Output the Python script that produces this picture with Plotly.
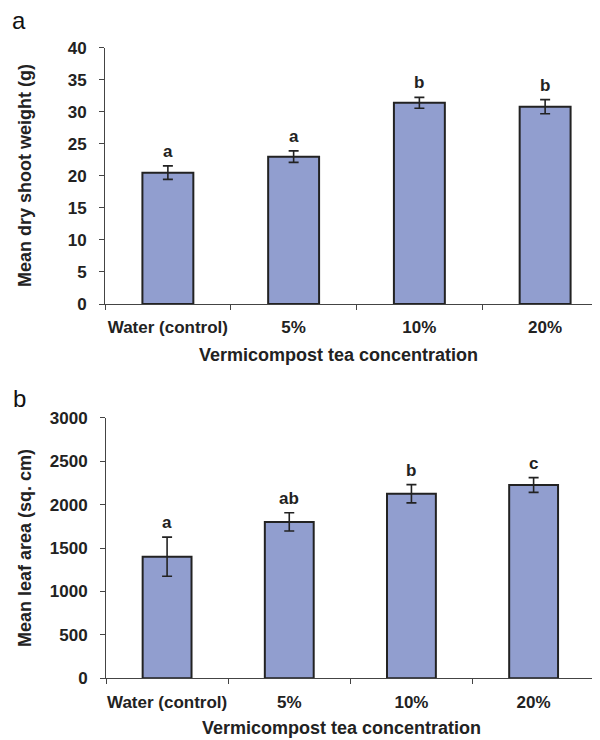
import plotly.graph_objects as go

categories = ["Water (control)", "5%", "10%", "20%"]
shoot_weight = [20.5, 23.0, 31.4, 30.8]
shoot_err = [1.05, 0.9, 0.85, 1.1]
shoot_letters = ["a", "a", "b", "b"]
leaf_area = [1400, 1800, 2125, 2225]
leaf_err = [225, 105, 105, 85]
leaf_letters = ["a", "ab", "b", "c"]
shoot_ticks = [0, 5, 10, 15, 20, 25, 30, 35, 40]
leaf_ticks = [0, 500, 1000, 1500, 2000, 2500, 3000]

OFF = 8  # page body margin
W, H = 600 - OFF, 740 - OFF
BAR = "rgb(145,158,207)"
DARK = "#222222"
FONT = "Liberation Sans, Arial, sans-serif"

def px(v):
    return (v - OFF) / W

def py(v):
    return 1 - (v - OFF) / H

fig = go.Figure()
fig.add_trace(go.Bar(x=categories, y=shoot_weight, width=0.405,
                     marker=dict(color=BAR, line=dict(color=DARK, width=2)),
                     error_y=dict(type="data", array=shoot_err, color=DARK, thickness=1.6, width=5),
                     xaxis="x", yaxis="y", showlegend=False))
fig.add_trace(go.Bar(x=categories, y=leaf_area, width=0.40,
                     marker=dict(color=BAR, line=dict(color=DARK, width=2)),
                     error_y=dict(type="data", array=leaf_err, color=DARK, thickness=1.6, width=5),
                     xaxis="x2", yaxis="y2", showlegend=False))

tickfont = dict(family=FONT, size=17, color=DARK, weight="bold")
axis_common = dict(showline=True, linecolor="#444444", linewidth=1, ticks="outside",
                   ticklen=5, tickcolor="#444444", showgrid=False, zeroline=False,
                   tickfont=tickfont, tickangle=0, automargin=False)

# panel a: plot spans screen x 105..608 (clipped at 600)
step_a = (608 - 105) / 4
fig.update_layout(
    xaxis=dict(domain=[px(105), 1.0], anchor="y", type="category",
               range=[-0.5, 3.5 - (608 - 600) / step_a], tickson="boundaries",
               ticklabelstandoff=8, **axis_common),
    yaxis=dict(domain=[py(304), py(47.7)], anchor="x", range=[0, 40],
               tickvals=shoot_ticks, ticklabelstandoff=9, **axis_common),
    xaxis2=dict(domain=[px(106), px(594.7)], anchor="y2", type="category",
                range=[-0.5, 3.5], tickson="boundaries", ticklabelstandoff=8, **axis_common),
    yaxis2=dict(domain=[py(678.3), py(417.7)], anchor="x2", range=[0, 3000],
                tickvals=leaf_ticks, ticklabelstandoff=9, **axis_common),
)

annotations = []
lf = dict(family=FONT, size=17, color=DARK)
for c, v, e, t in zip(categories, shoot_weight, shoot_err, shoot_letters):
    annotations.append(dict(x=c, y=v + e, xref="x", yref="y", text="<b>" + t + "</b>", showarrow=False,
                            yanchor="bottom", yshift=3, font=lf))
for c, v, e, t in zip(categories, leaf_area, leaf_err, leaf_letters):
    annotations.append(dict(x=c, y=v + e, xref="x2", yref="y2", text="<b>" + t + "</b>", showarrow=False,
                            yanchor="bottom", yshift=3, font=lf))

title_font = dict(family=FONT, size=18, color=DARK)
annotations += [
    dict(x=px(338), y=py(355), xref="paper", yref="paper", text="<b>Vermicompost tea concentration</b>",
         showarrow=False, xanchor="center", yanchor="middle", font=title_font),
    dict(x=px(341.5), y=py(728), xref="paper", yref="paper", text="<b>Vermicompost tea concentration</b>",
         showarrow=False, xanchor="center", yanchor="middle", font=title_font),
    dict(x=px(25), y=py(176), xref="paper", yref="paper", text="<b>Mean dry shoot weight (g)</b>",
         showarrow=False, textangle=-90, xanchor="center", yanchor="middle", font=title_font),
    dict(x=px(25), y=py(548), xref="paper", yref="paper", text="<b>Mean leaf area (sq. cm)</b>",
         showarrow=False, textangle=-90, xanchor="center", yanchor="middle", font=title_font),
    dict(x=px(19), y=py(20), xref="paper", yref="paper", text="a",
         showarrow=False, xanchor="center", yanchor="middle",
         font=dict(family=FONT, size=24, color="#111111")),
    dict(x=px(19), y=py(398), xref="paper", yref="paper", text="b",
         showarrow=False, xanchor="center", yanchor="middle",
         font=dict(family=FONT, size=24, color="#111111")),
]

fig.update_layout(width=W, height=H, margin=dict(l=0, r=0, t=0, b=0, autoexpand=False),
                  paper_bgcolor="white", plot_bgcolor="white",
                  font=dict(family=FONT, color=DARK), bargap=0.6,
                  annotations=annotations)

fig.write_html("out.html")
